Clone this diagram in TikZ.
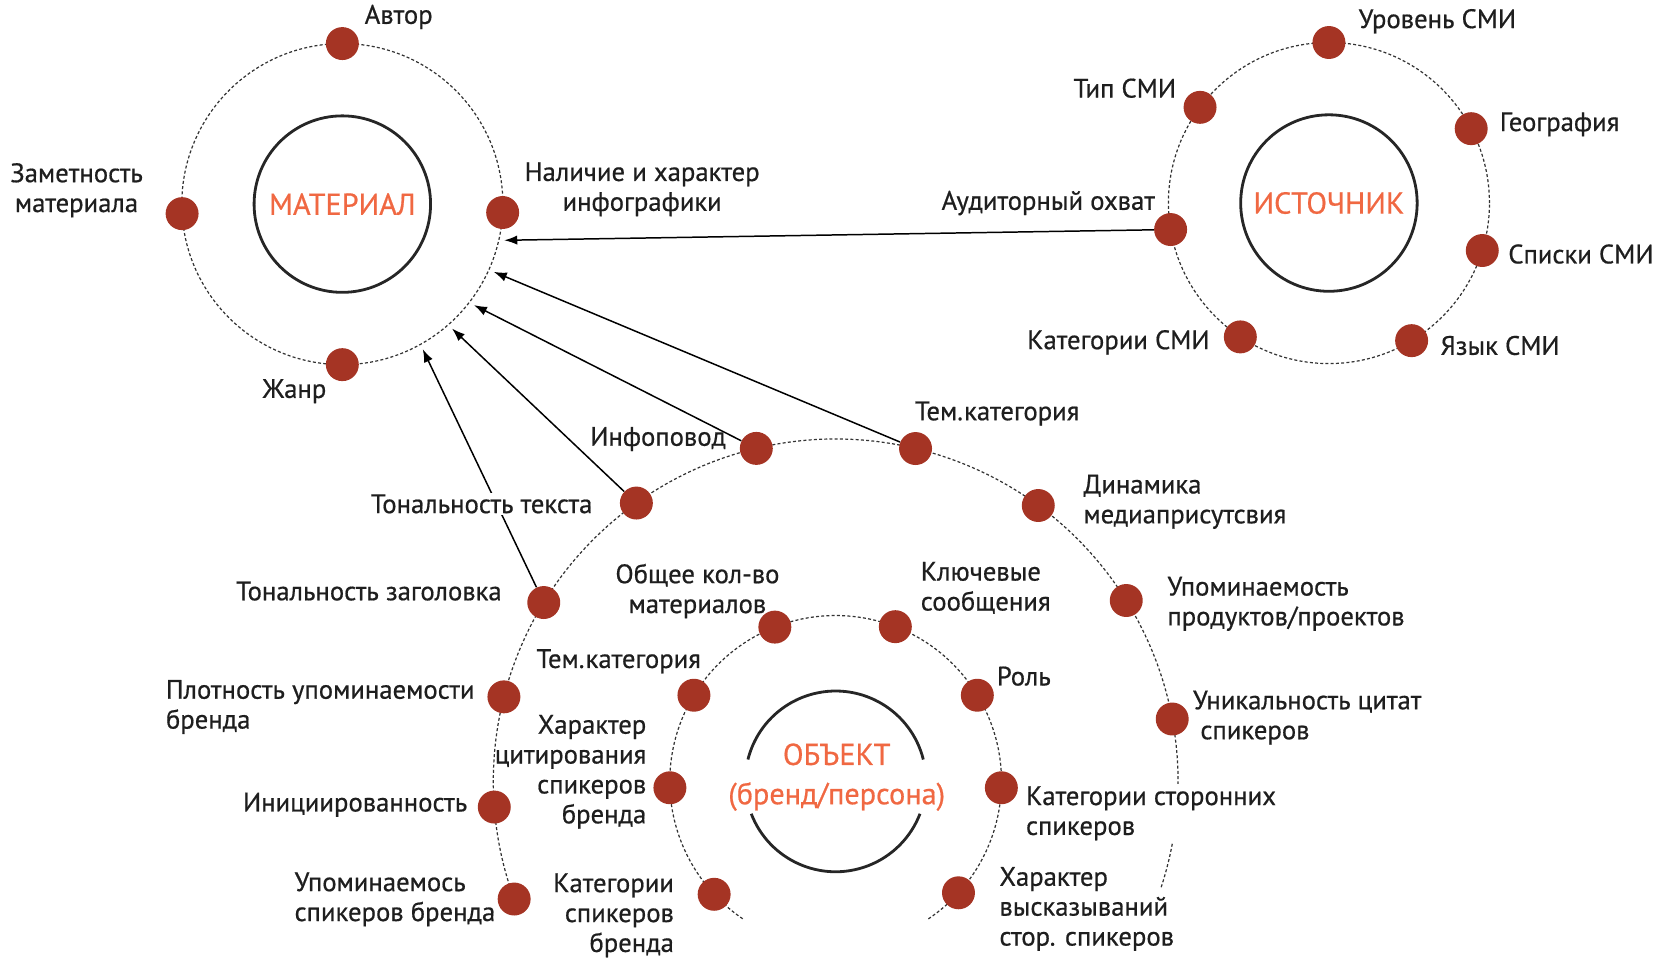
\documentclass[tikz,border=0pt]{standalone}
\usepackage{fontspec}
\setmainfont{PT Sans}
\newfontfamily\lblfont[FakeBold=0.6]{PT Sans}
\usetikzlibrary{arrows.meta}
\definecolor{dotred}{RGB}{165,52,36}
\definecolor{headorange}{RGB}{240,104,66}
\definecolor{txtgray}{RGB}{30,30,30}
\begin{document}
\begin{tikzpicture}[x=0.02cm, y=0.02cm,
    reddot/.style={circle, fill=dotred, inner sep=0pt, minimum size=0.62cm},
    txt/.style={font=\lblfont\fontsize{14.3}{16}\selectfont, text=txtgray, inner sep=1pt},
    head/.style={font=\lblfont\fontsize{16.2}{17}\selectfont, text=headorange},
    orbit/.style={black!80, line width=0.65pt, dash pattern=on 1.6pt off 1.2pt},
    core/.style={black!85, line width=1.5pt},
    link/.style={-{Latex[length=7pt,width=5pt]}, line width=0.8pt}]
    % 画布大小
    \useasboundingbox (0,0) rectangle (1568,908);
    
    % 三个中心
    \coordinate (cM) at (322,716);
    \coordinate (cI) at (1250,717);
    \coordinate (cO) at (786,173);
    
    % 环与核心圆
    \draw[orbit] (cM) circle[radius=151];
    \draw[core] (cM) circle[radius=83];
    \draw[orbit] (cI) circle[radius=151];
    \draw[core] (cI) circle[radius=83];
    \draw[orbit] ([shift={(-18:322)}]cO) arc[start angle=-18, end angle=202, radius=322];
    \draw[orbit] ([shift={(-56:156)}]cO) arc[start angle=-56, end angle=236, radius=156];
    \draw[core] ([shift={(14:85)}]cO) arc[start angle=14, end angle=166, radius=85];
    \draw[core] ([shift={(201:85)}]cO) arc[start angle=201, end angle=339, radius=85];
    
    % 圆点
    \foreach \nm/\ang in {avtor/90, zamet/183.4, nalich/-3, zhanr/-90}
        \node[reddot] (\nm) at ([shift={(\ang:151)}]cM) {};
    \foreach \nm/\ang in {urov/90, tip/143.4, geo/27.6, spiski/-17.2, yazyk/-59, kateg/-123.5, auditor/189.5}
        \node[reddot] (\nm) at ([shift={(\ang:151)}]cI) {};
    \foreach \nm/\ang in {infopovod/103.4, temkatA/76.5, tontext/125.6, dinam/53.7, tonzag/148.5,
        upomprod/31.9, plotn/165.7, unik/10.5, inic/184.3, upomspk/200.1}
        \node[reddot] (\nm) at ([shift={(\ang:322)}]cO) {};
    \foreach \nm/\ang in {obshee/111.5, klyuch/68.9, temkatB/148.7, rol/31.3, harcit/182.2,
        katstor/-2.2, katspk/222.9, harvys/-42.2}
        \node[reddot] (\nm) at ([shift={(\ang:156)}]cO) {};
    
    % 箭头终点
    \coordinate (t1) at ([shift={(-12.6:156)}]cM);
    \coordinate (t2) at ([shift={(-24.1:156)}]cM);
    \coordinate (t3) at ([shift={(-37.5:156)}]cM);
    \coordinate (t4) at ([shift={(-48.6:156)}]cM);
    \coordinate (t5) at ([shift={(-61:156)}]cM);
    
    % 箭头
    \draw[link] (auditor) -- (t1);
    \draw[link] (temkatA) -- (t2);
    \draw[link] (infopovod) -- (t3);
    \draw[link] (tontext) -- (t4);
    \draw[link] (tonzag) -- (t5);
    
    % 标题
    \node[head] (tMat) at (cM) {МАТЕРИАЛ};
    \node[head] (tIst) at (cI) {ИСТОЧНИК};
    \node[head, align=center, font=\lblfont\fontsize{16.2}{21}\selectfont] (tObj) at (787,177) {ОБЪЕКТ\\(бренд/персона)};
    
    % 材料标签
    \node[txt] (lAvtor) at (375,892) {Автор};
    \node[txt, align=center] (lZamet) at (72,729) {Заметность\\материала};
    \node[txt, align=center] (lNalich) at (604,730) {Наличие и характер\\инфографики};
    \node[txt] (lZhanr) at (277,540) {Жанр};
    
    % 来源标签
    \node[txt] (lUrov) at (1352,888) {Уровень СМИ};
    \node[txt] (lTip) at (1058,825) {Тип СМИ};
    \node[txt] (lGeo) at (1467,791) {География};
    \node[txt] (lSpiski) at (1487,669) {Списки СМИ};
    \node[txt] (lYazyk) at (1411,583) {Язык СМИ};
    \node[txt] (lKateg) at (1052,586) {Категории СМИ};
    \node[txt] (lAuditor) at (986,717) {Аудиторный охват};
    
    % 外环标签
    \node[txt] (lInfo) at (619,495) {Инфоповод};
    \node[txt] (lTemA) at (938,519) {Тем.категория};
    \node[txt, fill=white] (lTonT) at (453,434) {Тональность текста};
    \node[txt, anchor=west, align=left] (lDin) at (1017,436) {Динамика\\медиаприсутсвия};
    \node[txt] (lTonZ) at (347,352) {Тональность заголовка};
    \node[txt, anchor=west, align=left] (lUpPr) at (1096,340) {Упоминаемость\\продуктов/проектов};
    \node[txt, anchor=west, align=left] (lPlot) at (154,243) {Плотность упоминаемости\\бренда};
    \node[txt, anchor=west, align=left] (lUnik) at (1120,233) {Уникальность цитат\\\hspace*{4pt}спикеров};
    \node[txt] (lInic) at (334,151) {Инициированность};
    \node[txt, anchor=west, align=left] (lUpSp) at (275,62) {Упоминаемось\\спикеров бренда};
    
    % 内环标签
    \node[txt, align=center] (lObsh) at (656,352) {Общее кол-во\\материалов};
    \node[txt, anchor=west, align=left] (lKlyuch) at (864,355) {Ключевые\\сообщения};
    \node[txt] (lTemB) at (582,286) {Тем.категория};
    \node[txt] (lRol) at (963,272) {Роль};
    \node[txt, anchor=east, align=right] (lHarC) at (610,182) {Характер\\цитирования\\спикеров\\бренда};
    \node[txt, anchor=west, align=left, fill=white] (lKatS) at (963,143) {Категории сторонних\\спикеров};
    \node[txt, anchor=east, align=right] (lKatB) at (636,47) {Категории\\спикеров\\бренда};
    \node[txt, anchor=west, align=left] (lHarV) at (938,53) {Характер\\высказываний\\стор. спикеров};
    
\end{tikzpicture}
\end{document}
